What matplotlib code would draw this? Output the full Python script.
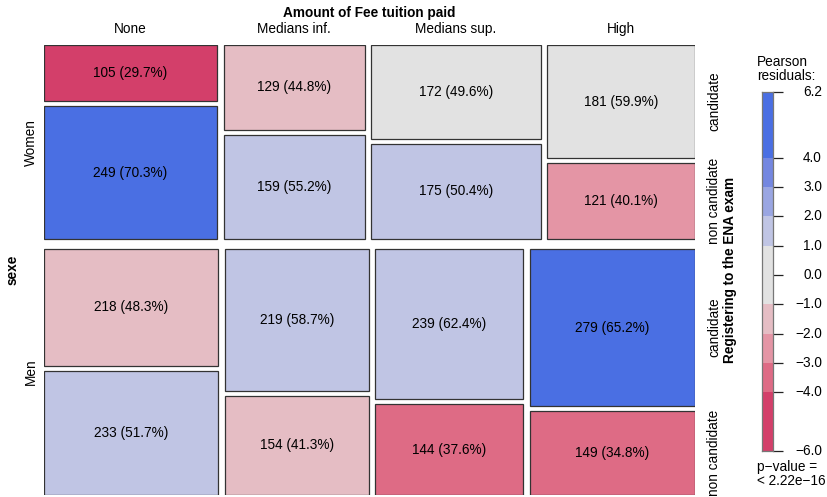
import numpy as np
import matplotlib.pyplot as plt
from matplotlib.patches import Rectangle
from matplotlib.transforms import blended_transform_factory

plt.rcParams['font.family'] = ['Liberation Sans', 'DejaVu Sans']

# effectifs : sexe x montant des frais x inscription au concours
fee_levels = ["None", "Medians inf.", "Medians sup.", "High"]
sexe_levels = ["Women", "Men"]
reg_levels = ["candidate", "non candidate"]
women_candidate = [105, 129, 172, 181]
women_non_candidate = [249, 159, 175, 121]
men_candidate = [218, 219, 239, 279]
men_non_candidate = [233, 154, 144, 149]

# classes de résidus et couleurs associées
breaks = [-4, -3, -2, -1, 1, 2, 3, 4]
shade_colors = ["#D33F6A", "#DE6B85", "#E495A5", "#E5BDC4", "#E2E2E2",
                "#C0C5E4", "#9AA6E2", "#7487E0", "#4A6FE3"]

counts = np.array([[women_candidate, women_non_candidate],
                   [men_candidate, men_non_candidate]], dtype=float)
counts = counts.transpose(0, 2, 1)  # sexe, fee, reg
N = counts.sum()
ps = counts.sum(axis=(1, 2)) / N
pf = counts.sum(axis=(0, 2)) / N
pr = counts.sum(axis=(0, 1)) / N
expected = N * ps[:, None, None] * pf[None, :, None] * pr[None, None, :]
resid = (counts - expected) / np.sqrt(expected)


def shade(r):
    return shade_colors[np.searchsorted(breaks, r)]


W, H = 828, 497
fig = plt.figure(figsize=(W / 100, H / 100), dpi=100)

# zone de la mosaïque en pixels
x0, x1, y0, y1 = 44, 695, 45, 495
ax = fig.add_axes([x0 / W, 1 - y1 / H, (x1 - x0) / W, (y1 - y0) / H])
ax.set_xlim(0, x1 - x0)
ax.set_ylim(y1 - y0, 0)
ax.axis('off')

gap_sexe, gap_fee, gap_reg = 10, 6.5, 5
width = x1 - x0
height = y1 - y0

row_h = (height - gap_sexe) * ps
y = 0
cells = {}
for i in range(2):
    col_w = (width - 3 * gap_fee) * counts[i].sum(axis=1) / counts[i].sum()
    x = 0
    for j in range(4):
        tot = counts[i, j].sum()
        hh = (row_h[i] - gap_reg) * counts[i, j] / tot
        yy = y
        for k in range(2):
            ax.add_patch(Rectangle((x, yy), col_w[j], hh[k],
                                   facecolor=shade(resid[i, j, k]),
                                   edgecolor="#333333", lw=0.9))
            ax.text(x + col_w[j] / 2, yy + hh[k] / 2,
                    "%d (%.1f%%)" % (counts[i, j, k], 100 * counts[i, j, k] / tot),
                    ha='center', va='center', fontsize=9.8)
            cells[(i, j, k)] = (x, yy, col_w[j], hh[k])
            yy += hh[k] + gap_reg
        x += col_w[j] + gap_fee
    y += row_h[i] + gap_sexe

# étiquettes des modalités
for j, lab in enumerate(fee_levels):
    cx, cy, cw, ch = cells[(0, j, 0)]
    ax.text(cx + cw / 2, -16, lab, ha='center', va='center', fontsize=9.8)
ax.text(width / 2, -32, "Amount of Fee tuition paid", ha='center', va='center',
        fontsize=9.8, fontweight='bold')

y = 0
for i, lab in enumerate(sexe_levels):
    ax.text(-13, y + row_h[i] / 2, lab, ha='center', va='center',
            rotation=90, fontsize=9.8)
    y += row_h[i] + gap_sexe
ax.text(-31, height / 2, "sexe", ha='center', va='center', rotation=90,
        fontsize=9.8, fontweight='bold')

for i in range(2):
    for k, lab in enumerate(reg_levels):
        cx, cy, cw, ch = cells[(i, 3, k)]
        ax.text(width + 19, cy + ch / 2, lab, ha='center', va='center',
                rotation=90, fontsize=9.8, clip_on=False)
ax.text(width + 35, height / 2, "Registering to the ENA exam", ha='center',
        va='center', rotation=90, fontsize=9.8, fontweight='bold')

# légende des résidus
rmin, rmax = resid.min(), resid.max()
lb_top, lb_bot = 92, 451
lax = fig.add_axes([762 / W, 1 - lb_bot / H, 11 / W, (lb_bot - lb_top) / H])
lax.set_xlim(0, 1)
lax.set_ylim(rmin, rmax)
edges = [rmin] + breaks + [rmax]
for lo, hi, c in zip(edges[:-1], edges[1:], shade_colors):
    lax.axhspan(lo, hi, color=c, lw=0)
ticks = [rmin] + breaks[:4] + [0] + breaks[4:] + [rmax]
lax.set_xticks([])
lax.set_yticks(ticks)
lax.yaxis.tick_right()
lax.tick_params(axis='y', length=7, width=0.9, color="#222222", labelright=False)
for s in lax.spines.values():
    s.set_color("#777777")
    s.set_linewidth(0.9)
lab_tr = blended_transform_factory(fig.transFigure, lax.transData)
for t in ticks:
    lax.text(822 / W, t, ("%.1f" % t).replace("-", "\u2212"), transform=lab_tr,
             ha='right', va='center', fontsize=9.8)
fig.text(757 / W, 1 - 69 / H, "Pearson\nresiduals:", ha='left', va='center',
         fontsize=9.8, linespacing=0.95)
fig.text(757 / W, 1 - 474 / H, "p\u2212value =\n< 2.22e\u221216", ha='left',
         va='center', fontsize=9.8, linespacing=0.95)

fig.savefig("out.png", dpi=100)
